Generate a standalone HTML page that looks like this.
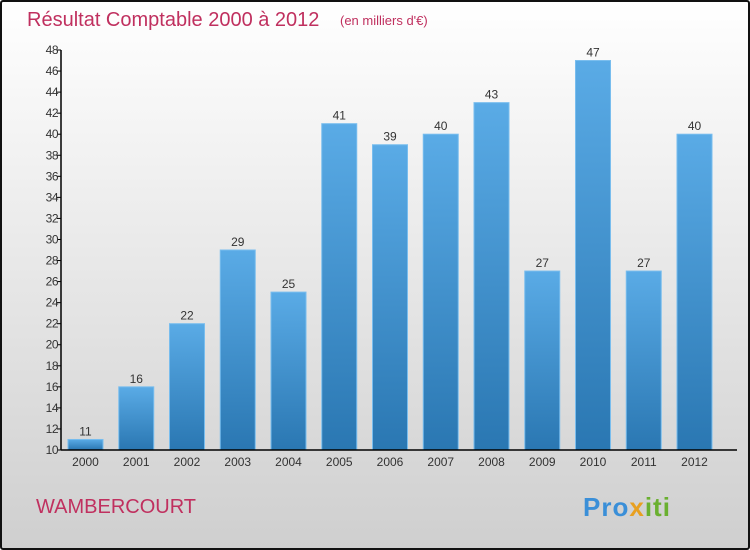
<!DOCTYPE html>
<html><head><meta charset="utf-8"><style>
html,body{margin:0;padding:0}
body{width:750px;height:550px;overflow:hidden;font-family:"Liberation Sans",sans-serif}
#frame{position:absolute;left:0;top:0;width:746px;height:546px;border:2px solid #111;border-radius:3px;background:linear-gradient(#ffffff,#cfcfcf)}
</style></head><body>
<div id="frame"></div>
<svg id="chart" width="750" height="550" style="position:absolute;left:0;top:0">
<defs><linearGradient id="bg" x1="0" y1="0" x2="0" y2="1"><stop offset="0" stop-color="#5aabe6"/><stop offset="1" stop-color="#2a77b2"/></linearGradient></defs>
<text x="27" y="26" font-size="20" fill="#c0305f">Résultat Comptable 2000 à 2012</text>
<text x="340" y="25" font-size="13" fill="#c0305f">(en milliers d'€)</text>
<text x="36" y="513" font-size="20" fill="#c0305f">WAMBERCOURT</text>
<text x="583" y="516" font-size="26" font-weight="bold" letter-spacing="1"><tspan fill="#3a8fd8">Pro</tspan><tspan fill="#e8a020">x</tspan><tspan fill="#6ab030">iti</tspan></text>
<g id="bars"></g><g id="axes"></g>
</svg>
<script>
const years=['2000','2001','2002','2003','2004','2005','2006','2007','2008','2009','2010','2011','2012'];
const values=[11,16,22,29,25,41,39,40,43,27,47,27,40];
const yTicks=[10,12,14,16,18,20,22,24,26,28,30,32,34,36,38,40,42,44,46,48];
const NS='http://www.w3.org/2000/svg';
const y0=450,y1=50,vmin=10,vmax=48;
function yScale(v){return y0-(v-vmin)/(vmax-vmin)*(y0-y1);}
function xScale(i){return 68+i*50.75;}
const bw=35;
function mk(t,a,p){const e=document.createElementNS(NS,t);for(const k in a)e.setAttribute(k,a[k]);p.appendChild(e);return e;}
const bars=document.getElementById('bars'),axes=document.getElementById('axes');
values.forEach((v,i)=>{
  const x=xScale(i),y=yScale(v);
  const r=mk('rect',{x:x,y:y,width:bw,height:y0-y,fill:'url(#bg)',stroke:'#78bdee','stroke-width':1},bars);
  
  
  const t=mk('text',{x:x+bw/2,y:y-4,'text-anchor':'middle','font-size':12,fill:'#333'},bars);
  t.textContent=v;
  
  
  const xl=mk('text',{x:x+bw/2,y:466,'text-anchor':'middle','font-size':12,fill:'#333'},axes);
  xl.textContent=years[i];
  
  
});
const ya=mk('line',{x1:61,y1:y1,x2:61,y2:y0,stroke:'#000','stroke-width':1.5},axes);


const xa=mk('line',{x1:61,y1:y0,x2:737,y2:y0,stroke:'#000','stroke-width':1.5},axes);


yTicks.forEach(v=>{
  const y=yScale(v);
  mk('line',{x1:57,y1:y,x2:61,y2:y,stroke:'#000'},axes);
  const t=mk('text',{x:58,y:y+4,'text-anchor':'end','font-size':12,fill:'#333','letter-spacing':'-0.5'},axes);
  t.textContent=v;
  
  
});
</script>
</body></html>
